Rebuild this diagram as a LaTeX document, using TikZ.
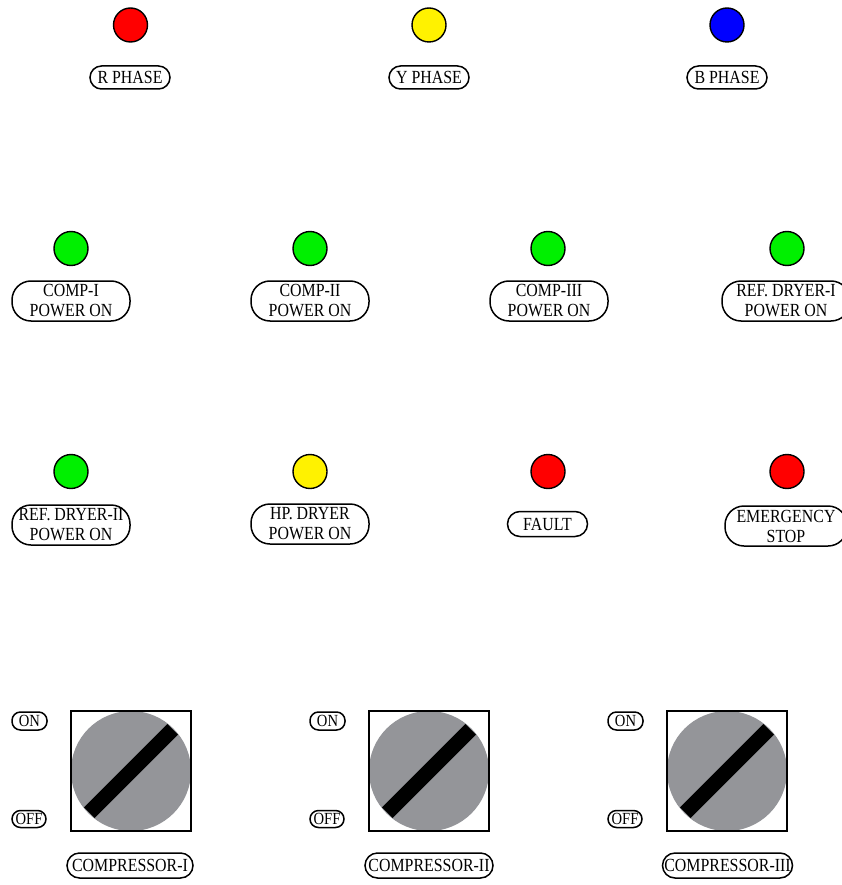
\documentclass[tikz,border=0pt]{standalone}
\usepackage{fontspec}
\setmainfont{Liberation Serif}[FakeStretch=0.86]
\usetikzlibrary{calc}
\definecolor{lampgreen}{RGB}{0,240,0}
\definecolor{knobgray}{RGB}{148,149,153}
\tikzset{
  lamp/.style={circle, draw=black, line width=1.4pt, minimum size=34pt, inner sep=0pt},
  tag/.style={draw=black, line width=1.5pt, rounded corners=11.5pt, inner sep=0pt, align=center,
    font=\fontsize{18.5}{20}\selectfont},
  tagtwo/.style={tag, minimum width=118pt, minimum height=40pt, rounded corners=19pt},
  tagsw/.style={tag, rounded corners=8.5pt, font=\fontsize{17}{18}\selectfont},
  frame/.style={draw=black, line width=1.4pt, minimum size=120pt, inner sep=0pt},
  knob/.style={circle, fill=knobgray, minimum size=120pt, inner sep=0pt},
  bar/.style={line width=15pt, black}
}
\begin{document}
\begin{tikzpicture}[x=1pt,y=-1pt]
\useasboundingbox (0,0) rectangle (842,885);
% row 1
\node[lamp, fill=red]    (l1) at (130.5,25) {};
\node[lamp, fill=yellow] (l2) at (429,25) {};
\node[lamp, fill=blue]   (l3) at (727,25) {};
\node[tag, minimum width=80pt, minimum height=23pt] (t1) at (130,77.5) {R PHASE};
\node[tag, minimum width=80pt, minimum height=23pt] (t2) at (429,77.5) {Y PHASE};
\node[tag, minimum width=80pt, minimum height=23pt] (t3) at (727,77.5) {B PHASE};
% row 2
\node[lamp, fill=lampgreen] (l4) at (71,248.5) {};
\node[lamp, fill=lampgreen] (l5) at (310,248.5) {};
\node[lamp, fill=lampgreen] (l6) at (548,248.5) {};
\node[lamp, fill=lampgreen] (l7) at (787,248.5) {};
\node[tagtwo] (t4) at (71,301) {COMP-I\\POWER ON};
\node[tagtwo] (t5) at (310,301) {COMP-II\\POWER ON};
\node[tagtwo] (t6) at (549,301) {COMP-III\\POWER ON};
\node[tagtwo, minimum width=128pt] (t7) at (786,301) {REF. DRYER-I\\POWER ON};
% row 3
\node[lamp, fill=lampgreen] (l8) at (71,471.5) {};
\node[lamp, fill=yellow]    (l9) at (310,471.5) {};
\node[lamp, fill=red]       (l10) at (548,471.5) {};
\node[lamp, fill=red]       (l11) at (787,471.5) {};
\node[tagtwo] (t8) at (71,525) {REF. DRYER-II\\POWER ON};
\node[tagtwo] (t9) at (310,524) {HP. DRYER\\POWER ON};
\node[tag, minimum width=80pt, minimum height=25pt, rounded corners=12.5pt] (t10) at (547.5,524) {FAULT};
\node[tagtwo, minimum width=122pt] (t11) at (786,526) {EMERGENCY\\STOP};
% switches
\foreach \i/\cx in {1/131,2/429,3/727}{
  \node[knob] (k\i) at (\cx,771) {};
  \draw[bar] ($(k\i.center)+(-41.7,41.7)$) -- ($(k\i.center)+(41.7,-41.7)$);
  \node[frame] (f\i) at (k\i.center) {};
  \node[tagsw, minimum width=35pt, minimum height=18pt] (on\i) at ($(k\i.center)+(-101.5,-50)$) {ON};
  \node[tagsw, minimum width=34pt, minimum height=17pt] (off\i) at ($(k\i.center)+(-102,48)$) {OFF};
}
\node[tag, minimum width=126pt, minimum height=25pt, rounded corners=12.5pt] (c1) at (130,865.5) {COMPRESSOR-I};
\node[tag, minimum width=128pt, minimum height=25pt, rounded corners=12.5pt] (c2) at (429,865.5) {COMPRESSOR-II};
\node[tag, minimum width=130pt, minimum height=25pt, rounded corners=12.5pt] (c3) at (727.5,865.5) {COMPRESSOR-III};
\end{tikzpicture}
\end{document}
